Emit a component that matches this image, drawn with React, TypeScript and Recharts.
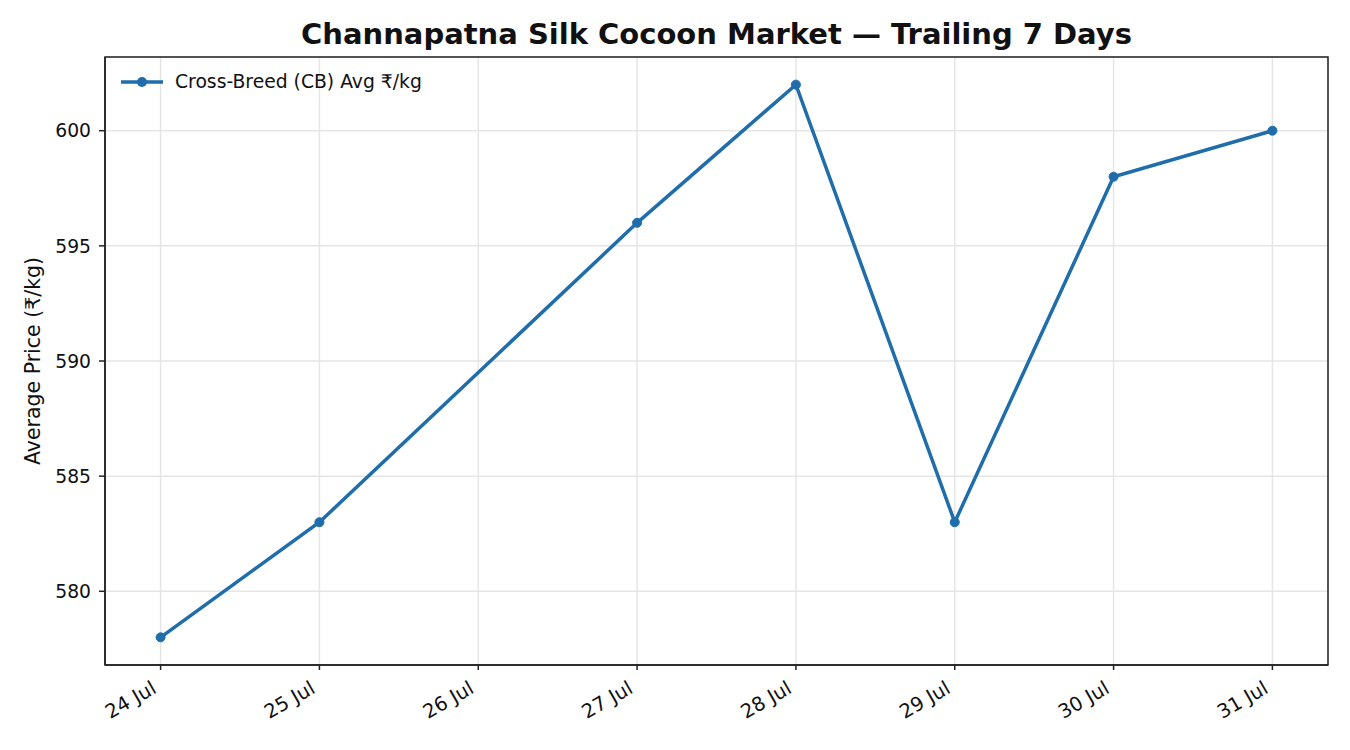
import React from "react";
import { LineChart, Line, CartesianGrid, XAxis, YAxis, ReferenceArea } from "recharts";

const dayLabels = ["24 Jul", "25 Jul", "26 Jul", "27 Jul", "28 Jul", "29 Jul", "30 Jul", "31 Jul"];
const dayIndex = [0, 1, 3, 4, 5, 6, 7];
const cbPrices = [578, 583, 596, 602, 583, 598, 600];
const yTicks = [580, 585, 590, 595, 600];

const data = dayIndex.map((d, i) => ({ day: d, price: cbPrices[i] }));
const xTicks = dayLabels.map((_, i) => i);

const FONT = "'DejaVu Sans', sans-serif";
const BLUE = "#1f6eab";
const X_DOMAIN: [number, number] = [-0.35, 7.35];
const Y_DOMAIN: [number, number] = [576.8, 603.2];

function XTick(props: any) {
  const { x, y, payload } = props;
  return (
    <g transform={`translate(${x - 3},${y + 22})`}>
      <text transform="rotate(-30)" textAnchor="end" fontSize={19.5} fontFamily={FONT} fill="#111">
        {dayLabels[payload.value]}
      </text>
    </g>
  );
}

export default function App() {
  return (
    <div style={{ position: "absolute", left: 0, top: 0, width: 1350, height: 750, background: "#fff" }}>
      <div
        style={{
          position: "absolute",
          left: 105,
          width: 1223,
          top: 17,
          textAlign: "center",
          fontFamily: FONT,
          fontWeight: "bold",
          fontSize: 29,
          color: "#111",
        }}
      >
        Channapatna Silk Cocoon Market — Trailing 7 Days
      </div>
      <div
        style={{
          position: "absolute",
          left: 33,
          top: 361,
          transform: "translate(-50%, -50%) rotate(-90deg)",
          whiteSpace: "nowrap",
          fontFamily: FONT,
          fontSize: 20.5,
          color: "#111",
        }}
      >
        Average Price (₹/kg)
      </div>
      <LineChart width={1350} height={750} data={data} margin={{ top: 57, right: 22, left: 0, bottom: 0 }}>
        <CartesianGrid stroke="#e5e5e5" strokeWidth={1.5} />
        <XAxis
          dataKey="day"
          type="number"
          domain={X_DOMAIN}
          ticks={xTicks}
          allowDataOverflow
          height={85}
          tick={<XTick />}
          tickSize={5}
          tickMargin={0}
          axisLine={{ stroke: "#222", strokeWidth: 1.5 }}
          tickLine={{ stroke: "#222", strokeWidth: 1.5 }}
        />
        <YAxis
          type="number"
          domain={Y_DOMAIN}
          ticks={yTicks}
          allowDataOverflow
          width={105}
          tickSize={6}
          tickMargin={8}
          tick={{ fontSize: 18.75, fontFamily: FONT, fill: "#111" }}
          axisLine={{ stroke: "#222", strokeWidth: 1.5 }}
          tickLine={{ stroke: "#222", strokeWidth: 1.5 }}
        />
        <ReferenceArea
          x1={X_DOMAIN[0]}
          x2={X_DOMAIN[1]}
          y1={Y_DOMAIN[0]}
          y2={Y_DOMAIN[1]}
          fill="none"
          stroke="#222"
          strokeWidth={1.5}
          fillOpacity={0}
        />
        <Line
          type="linear"
          dataKey="price"
          stroke={BLUE}
          strokeWidth={3.5}
          dot={{ r: 4.5, fill: BLUE, stroke: BLUE, strokeWidth: 1 }}
          activeDot={false}
          isAnimationActive={false}
        />
      </LineChart>
      <div
        style={{
          position: "absolute",
          left: 120,
          top: 71,
          display: "flex",
          alignItems: "center",
          fontFamily: FONT,
          fontSize: 18.75,
          color: "#111",
        }}
      >
        <svg width={44} height={12} style={{ marginRight: 11 }}>
          <line x1={1} y1={6} x2={43} y2={6} stroke={BLUE} strokeWidth={3.5} />
          <circle cx={22} cy={6} r={5} fill={BLUE} />
        </svg>
        <span>Cross-Breed (CB) Avg ₹/kg</span>
      </div>
    </div>
  );
}
